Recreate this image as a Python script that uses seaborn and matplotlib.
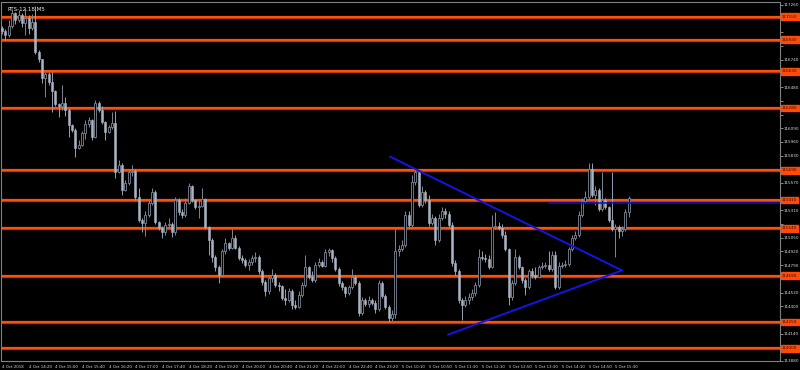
import numpy as np
import pandas as pd
import matplotlib
matplotlib.use("Agg")
import matplotlib.pyplot as plt
import matplotlib.transforms as mtransforms
import seaborn as sns

# ---------------- data (RTS-12.18, M5) ----------------
title = "RTS-12.18,M5"
first_open = 117040
closes = [117010, 116970, 117060, 117180, 117120, 117160, 117090, 117140, 117040, 117100,
          116810, 116750, 116570, 116600, 116530, 116440, 116320, 116300, 116330, 116260,
          116120, 116070, 115900, 115930, 116040, 116130, 116170, 116010, 116330, 116260,
          116150, 116050, 116100, 116140, 115670, 115740, 115500, 115570, 115670, 115680,
          115440, 115220, 115190, 115270, 115380, 115480, 115200, 115140, 115100, 115170,
          115180, 115100, 115410, 115290, 115270, 115380, 115540, 115410, 115340, 115350,
          115420, 115150, 115030, 114870, 114770, 114700, 114920, 115000, 114950, 115050,
          114950, 114860, 114840, 114790, 114820, 114860, 114870, 114730, 114630, 114540,
          114670, 114700, 114600, 114590, 114480, 114460, 114540, 114410, 114390, 114510,
          114600, 114770, 114680, 114650, 114790, 114820, 114780, 114910, 114930, 114860,
          114750, 114620, 114580, 114530, 114580, 114680, 114620, 114340, 114460, 114420,
          114460, 114430, 114370, 114620, 114500, 114390, 114290, 114330, 114920, 114940,
          114980, 115270, 115170, 115580, 115670, 115360, 115480, 115410, 115190, 115240,
          115030, 115240, 115300, 115280, 115170, 114810, 114730, 114460, 114410, 114460,
          114490, 114530, 114600, 114870, 114860, 114850, 114770, 115150, 115160, 115140,
          115080, 114940, 114490, 114620, 114870, 114770, 114650, 114580, 114730, 114700,
          114680, 114770, 114780, 114790, 114750, 114890, 114580, 114780, 114790, 114800,
          114940, 115050, 115080, 115270, 115400, 115440, 115700, 115460, 115500, 115320,
          115410, 115340, 115220, 115130, 115150, 115110, 115130, 115290, 115430]
highs = [117060, 117030, 117120, 117210, 117190, 117210, 117180, 117230, 117160, 117170,
         117250, 116830, 116740, 116620, 116620, 116620, 116450, 116330, 116500, 116390,
         116280, 116130, 116090, 115980, 116060, 116170, 116200, 116180, 116360, 116350,
         116300, 116160, 116120, 116240, 116250, 115790, 115760, 115600, 115700, 115740,
         115700, 115520, 115240, 115300, 115410, 115520, 115500, 115210, 115160, 115200,
         115240, 115200, 115440, 115430, 115320, 115430, 115570, 115550, 115420, 115410,
         115520, 115430, 115160, 115050, 114890, 114790, 114940, 115050, 115010, 115130,
         115080, 114970, 114890, 114860, 114850, 114890, 114910, 114890, 114750, 114650,
         114700, 114750, 114720, 114630, 114600, 114560, 114570, 114560, 114460, 114540,
         114630, 114890, 114780, 114730, 114820, 114860, 114840, 114940, 114950, 114940,
         114880, 114770, 114640, 114590, 114600, 114750, 114700, 114640, 114490, 114480,
         114500, 114480, 114460, 114650, 114640, 114520, 114410, 114360, 115130, 114980,
         115030, 115300, 115300, 115650, 115700, 115520, 115540, 115500, 115460, 115280,
         115260, 115280, 115340, 115330, 115300, 115200, 114840, 114750, 114480, 114500,
         114530, 114560, 114630, 114940, 114920, 114900, 114890, 115270, 115290, 115200,
         115180, 115110, 114950, 114650, 114940, 114890, 114780, 114670, 114750, 114760,
         114770, 114790, 114820, 114820, 114920, 114920, 114920, 114820, 114820, 114840,
         114960, 115080, 115110, 115300, 115430, 115490, 115760, 115760, 115540, 115520,
         115670, 115430, 115350, 115670, 115180, 115170, 115160, 115320, 115450]
lows = [116980, 116930, 116960, 117040, 117080, 117100, 117050, 116970, 116980, 117020,
        116790, 116720, 116520, 116390, 116500, 116240, 116300, 116200, 116260, 116210,
        116010, 116050, 115820, 115890, 115920, 115990, 116100, 115980, 116000, 116240,
        116130, 115980, 116040, 116080, 115620, 115660, 115460, 115490, 115550, 115640,
        115410, 115200, 115100, 115070, 115250, 115360, 115180, 115120, 115050, 115080,
        115140, 115060, 115080, 115270, 115240, 115250, 115370, 115390, 115320, 115240,
        115340, 115130, 114890, 114820, 114730, 114620, 114680, 114900, 114930, 114940,
        114940, 114840, 114810, 114770, 114740, 114790, 114820, 114710, 114600, 114500,
        114520, 114630, 114580, 114540, 114460, 114410, 114440, 114370, 114370, 114380,
        114490, 114580, 114660, 114630, 114630, 114770, 114770, 114770, 114880, 114820,
        114730, 114590, 114550, 114490, 114510, 114560, 114600, 114310, 114320, 114400,
        114390, 114410, 114340, 114350, 114480, 114370, 114250, 114260, 114290, 114880,
        114920, 114960, 115150, 115150, 115550, 115340, 115340, 115380, 115160, 115170,
        114980, 115010, 115220, 115240, 115150, 114780, 114700, 114430, 114270, 114390,
        114420, 114460, 114500, 114580, 114840, 114820, 114750, 114760, 115130, 115120,
        115050, 114920, 114410, 114460, 114600, 114750, 114620, 114510, 114560, 114670,
        114660, 114710, 114750, 114760, 114730, 114730, 114560, 114560, 114760, 114770,
        114780, 114920, 115030, 115060, 115250, 115380, 115420, 115440, 115360, 115300,
        115300, 115320, 115200, 115110, 114870, 115050, 115070, 115110, 115250]

# time axis labels (one every 8 bars)
time_labels = ["4 Oct 2018", "4 Oct 14:20", "4 Oct 15:00", "4 Oct 15:40", "4 Oct 16:20",
               "4 Oct 17:00", "4 Oct 17:40", "4 Oct 18:20", "4 Oct 19:20", "4 Oct 20:00",
               "4 Oct 20:40", "4 Oct 21:20", "4 Oct 22:00", "4 Oct 22:40", "4 Oct 23:20",
               "5 Oct 10:10", "5 Oct 10:50", "5 Oct 11:30", "5 Oct 12:10", "5 Oct 12:50",
               "5 Oct 13:30", "5 Oct 14:10", "5 Oct 14:50", "5 Oct 15:30"]
label_step = 8

# horizontal support / resistance levels
levels = [117150, 116930, 116630, 116280, 115690, 115410, 115140, 114690, 114250, 114000]

# trend lines (bar index, price)
trend_upper = ([116.4, 186.0], [115820, 114740])
trend_lower = ([133.8, 186.0], [114130, 114740])
blue_level = 115380
blue_level_start = 163.8

# price axis ticks
ytick_start, ytick_stop, ytick_step = 113880, 117260, 130

# ---------------- build frame ----------------
opens = [first_open] + closes[:-1]
df = pd.DataFrame({"open": opens, "high": highs, "low": lows, "close": closes})
df["high"] = df[["open", "high", "close"]].max(axis=1)
df["low"] = df[["open", "low", "close"]].min(axis=1)
df["bar"] = np.arange(len(df))

# ---------------- style ----------------
sns.set_theme(style="dark", rc={
    "figure.facecolor": "black",
    "axes.facecolor": "black",
    "axes.edgecolor": "#808080",
    "text.color": "#e0e0e0",
    "xtick.color": "#808080",
    "ytick.color": "#808080",
    "xtick.labelcolor": "#d8d8d8",
    "ytick.labelcolor": "#d8d8d8",
})
plt.rcParams["font.family"] = ["DejaVu Sans"]

W, H = 800, 370
fig = plt.figure(figsize=(W / 100, H / 100), dpi=100)
ax = fig.add_axes([1 / W, 9 / H, 779 / W, 359 / H])
ax.set_facecolor("black")

bear_fill = "#a9b3c3"
bull_edge = "#7e8796"
bear_wick = "#97a1b1"

for _, r in df.iterrows():
    up = r["close"] > r["open"]
    ax.vlines(r["bar"], r["low"], r["high"], color=bull_edge if up else bear_wick,
              lw=0.7, zorder=3)
    bottom = min(r["open"], r["close"])
    height = max(abs(r["close"] - r["open"]), 4)
    if up:
        ax.bar(r["bar"], height, bottom=bottom, width=0.62, color="black",
               edgecolor=bull_edge, linewidth=0.6, zorder=4)
    else:
        ax.bar(r["bar"], height, bottom=bottom, width=0.62, color=bear_fill,
               edgecolor=bear_fill, linewidth=0.4, zorder=4)

# orange levels
xlim = (-0.3, 233.4)
for lv in levels:
    ax.axhline(lv, color="#c83400", lw=2.4, zorder=2)
    ax.axhline(lv, color="#ff5a14", lw=1.2, zorder=2)

# blue trend lines
ax.plot(trend_upper[0], trend_upper[1], color="#1414e6", lw=1.4, zorder=5)
ax.plot(trend_lower[0], trend_lower[1], color="#1414e6", lw=1.4, zorder=5)
ax.hlines(blue_level, blue_level_start, xlim[1], color="#1010c8", lw=1.1, zorder=5)

ax.set_xlim(*xlim)
ax.set_ylim(113884, 117288)

# axes decoration
for s in ax.spines.values():
    s.set_color("#808080")
    s.set_linewidth(0.8)
ax.grid(False)

yt = np.arange(ytick_start, ytick_stop + 1, ytick_step)
ax.yaxis.tick_right()
ax.set_yticks(yt)
# tick labels hidden behind the level tags are left blank
ylabels = [("" if min(abs(v - lv) for lv in levels) < 75 else str(v)) for v in yt]
ax.set_yticklabels(ylabels, fontsize=3.0, color="#d8d8d8")
ax.tick_params(axis="y", length=2.0, width=0.6, pad=0.5, color="#a0a0a0")

xt = np.arange(0, len(time_labels) * label_step, label_step)
ax.set_xticks(xt)
ax.set_xticklabels(time_labels, fontsize=2.8, ha="left", color="#d8d8d8")
ax.tick_params(axis="x", length=2.5, width=0.6, pad=0.4, color="#a0a0a0")

# level price tags on the right scale
trans = mtransforms.blended_transform_factory(ax.transAxes, ax.transData)
for lv in levels:
    ax.text(1.0025, lv, str(lv), transform=trans, fontsize=3.0, color="#3a0c00",
            va="center", ha="left", zorder=10, clip_on=False,
            bbox=dict(boxstyle="square,pad=0.3", facecolor="#ff4a08",
                      edgecolor="#ff4a08"))

ax.text(0.008, 0.988, title, transform=ax.transAxes, fontsize=4.0,
        color="#e8e8e8", va="top", ha="left")

fig.savefig("out.png", dpi=100, facecolor="black")
